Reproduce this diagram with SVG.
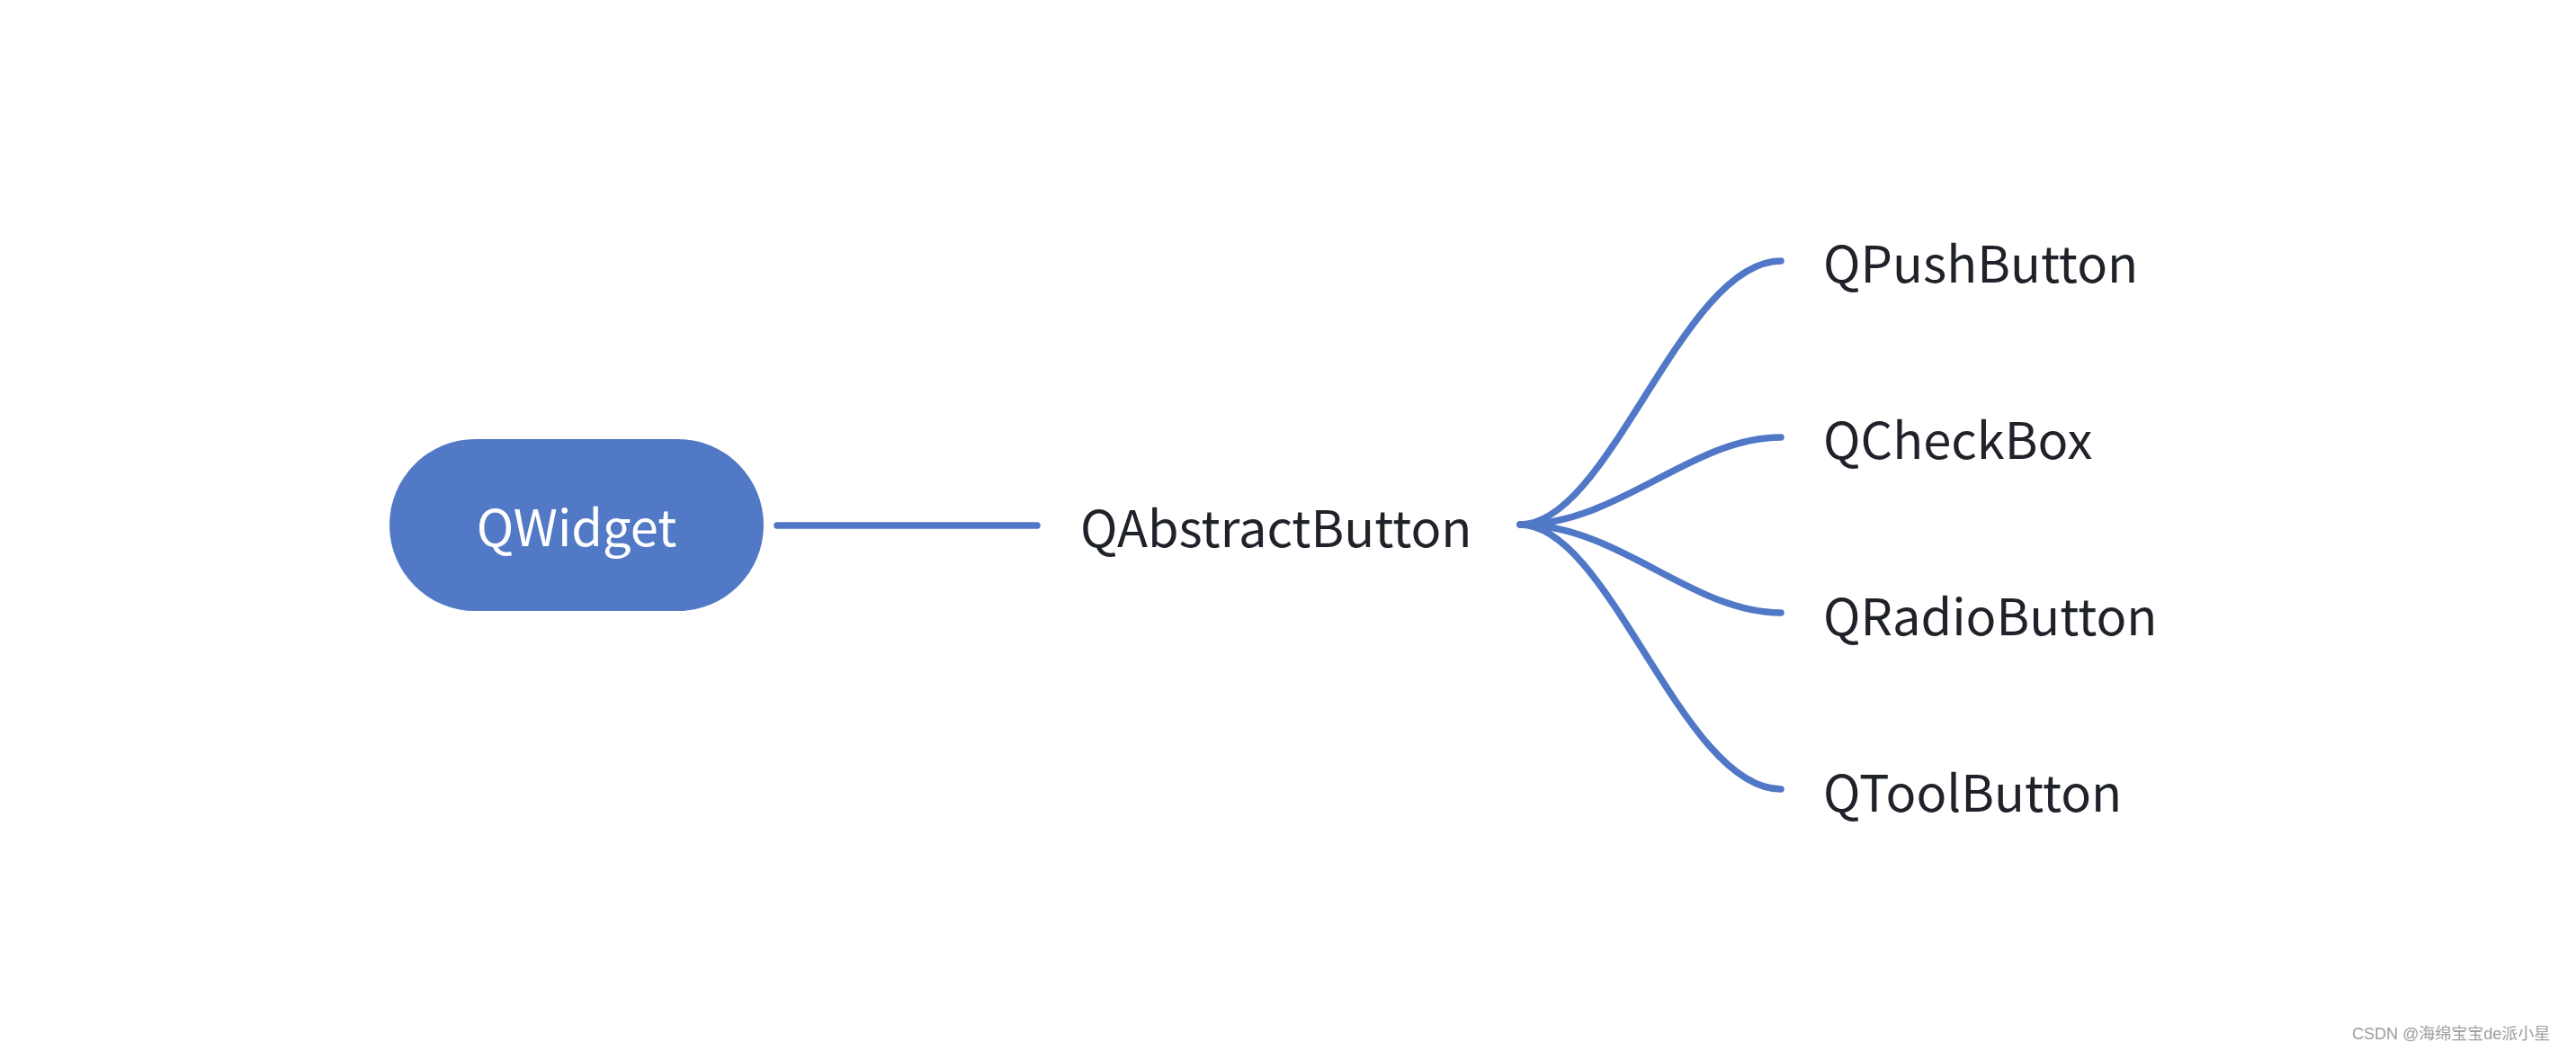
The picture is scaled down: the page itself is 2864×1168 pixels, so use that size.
<svg xmlns="http://www.w3.org/2000/svg" width="2864" height="1168" viewBox="0 0 2864 1168">
<style>
.lbl{font-family:"Noto Sans CJK SC","Noto Sans",sans-serif;font-size:56px;fill:#1f2329}
.conn{fill:none;stroke:#5078c6;stroke-width:7.5;stroke-linecap:round}
.wm{font-family:"Liberation Sans","Noto Sans CJK SC",sans-serif;font-size:18px;fill:#a0a0a0}
</style>
<rect width="2864" height="1168" fill="#ffffff"/>
<g id="connectors">
<path class="conn" d="M864 584 H1153"/>
<path class="conn" d="M1690 583 C1790 583 1870 290 1980 290"/>
<path class="conn" d="M1690 583 C1800 583 1880 486 1980 486"/>
<path class="conn" d="M1690 583 C1800 583 1880 681 1980 681"/>
<path class="conn" d="M1690 583 C1790 583 1870 877 1980 877"/>
</g>
<g id="qwidget">
<rect x="433" y="488" width="416" height="191" rx="95.5" fill="#5179c6"/>
<text class="lbl" x="641" y="607" text-anchor="middle" style="fill:#ffffff">QWidget</text>
</g>
<g id="qabstractbutton"><text class="lbl" x="1201" y="608">QAbstractButton</text></g>
<g id="qpushbutton"><text class="lbl" x="2027" y="314">QPushButton</text></g>
<g id="qcheckbox"><text class="lbl" x="2027" y="510">QCheckBox</text></g>
<g id="qradiobutton"><text class="lbl" x="2027" y="706">QRadioButton</text></g>
<g id="qtoolbutton"><text class="lbl" x="2027" y="902">QToolButton</text></g>
<text class="wm" x="2615" y="1155">CSDN @海绵宝宝de派小星</text>
</svg>
